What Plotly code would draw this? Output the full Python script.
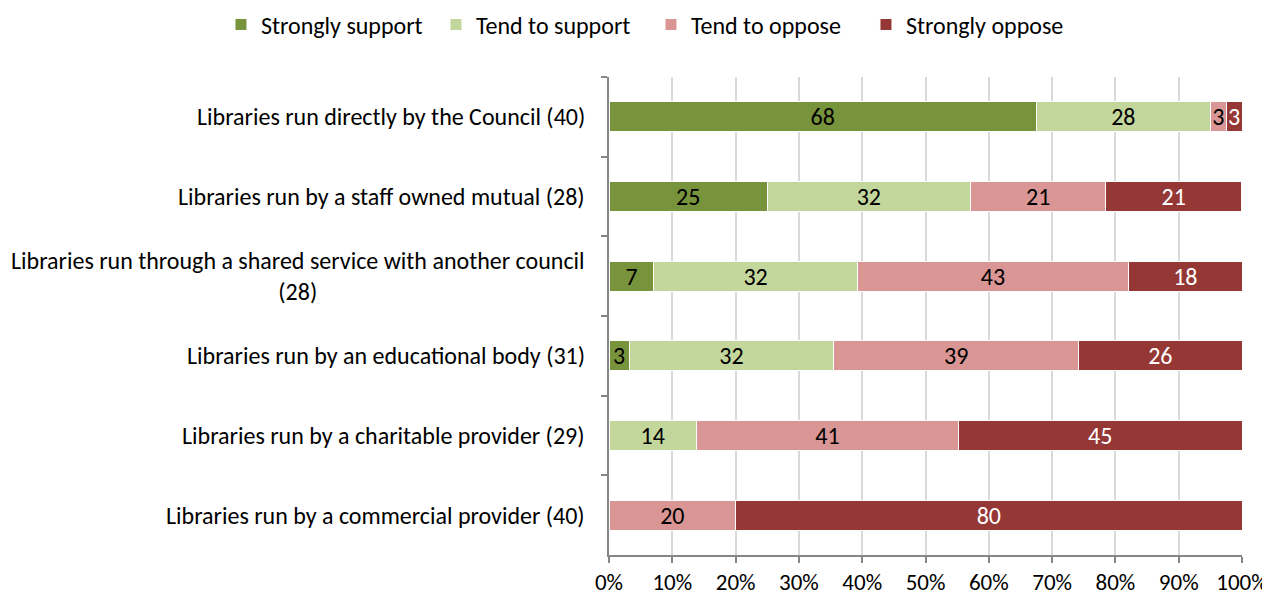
import plotly.graph_objects as go

categories = [
    "Libraries run directly by the Council (40)",
    "Libraries run by a staff owned mutual (28)",
    "Libraries run through a shared service with another council<br>(28)",
    "Libraries run by an educational body (31)",
    "Libraries run by a charitable provider (29)",
    "Libraries run by a commercial provider (40)",
]
series_names = ["Strongly support", "Tend to support", "Tend to oppose", "Strongly oppose"]
strongly_support = [67.5, 25.0, 7.1, 3.2, 0.0, 0.0]
tend_support = [27.5, 32.1, 32.1, 32.3, 13.8, 0.0]
tend_oppose = [2.5, 21.4, 42.9, 38.7, 41.4, 20.0]
strongly_oppose = [2.5, 21.4, 17.9, 25.8, 44.8, 80.0]
labels_ss = ["68", "25", "7", "3", "", ""]
labels_ts = ["28", "32", "32", "32", "14", ""]
labels_to = ["3", "21", "43", "39", "41", "20"]
labels_so = ["3", "21", "18", "26", "45", "80"]
x_ticks = [0, 10, 20, 30, 40, 50, 60, 70, 80, 90, 100]
x_tick_text = ["0%", "10%", "20%", "30%", "40%", "50%", "60%", "70%", "80%", "90%", "100%"]

colors = ["#77933C", "#C3D69B", "#D99694", "#953735"]
text_colors = ["#000000", "#000000", "#000000", "#FFFFFF"]
values = [strongly_support, tend_support, tend_oppose, strongly_oppose]
labels = [labels_ss, labels_ts, labels_to, labels_so]

FONT = "Carlito, Calibri, Lato, sans-serif"
FS = 24      # category / legend / bar label text
FT = 23      # x tick labels

fig = go.Figure()
for name, vals, lab, col, tcol in zip(series_names, values, labels, colors, text_colors):
    fig.add_trace(go.Bar(
        y=categories, x=vals, name=name, orientation="h",
        marker=dict(color=col, line=dict(color="#FFFFFF", width=1)),
        text=lab, textposition="inside", insidetextanchor="middle", textangle=0,
        textfont=dict(color=tcol, size=FS, family=FONT),
        hoverinfo="skip",
    ))

for c in categories:
    fig.add_annotation(
        x=0, xref="paper", y=c, yref="y", text=c, showarrow=False,
        xanchor="right", align="center", xshift=-22,
        font=dict(size=FS, family=FONT, color="#000000"),
    )

# the page body adds an 8px offset; margins compensate for it
fig.update_layout(
    barmode="stack",
    bargap=0.62,
    width=1270, height=594,
    margin=dict(l=601, r=36, t=69, b=47, autoexpand=False),
    paper_bgcolor="white", plot_bgcolor="white",
    font=dict(family=FONT, size=FS, color="#000000"),
    uniformtext=dict(minsize=FS, mode="show"),
    legend=dict(orientation="h", x=-0.613, xanchor="left", xref="paper",
                y=1.109, yref="paper", yanchor="middle",
                font=dict(size=FS, family=FONT), traceorder="normal",
                itemwidth=30, entrywidth=170, entrywidthmode="pixels"),
    showlegend=True,
)
fig.update_xaxes(
    range=[0, 100], tickvals=x_ticks, ticktext=x_tick_text,
    showgrid=True, gridcolor="#D9D9D9", gridwidth=1.5,
    showline=True, linecolor="#868686", linewidth=1.5,
    ticks="outside", ticklen=6, tickcolor="#868686", tickwidth=1.5,
    zeroline=False, tickfont=dict(size=FT, family=FONT),
)
fig.update_yaxes(
    categoryorder="array", categoryarray=categories, autorange="reversed",
    showticklabels=False, tickson="boundaries", ticks="outside", ticklen=6,
    tickcolor="#868686", tickwidth=1.5,
    showline=True, linecolor="#868686", linewidth=1.5, showgrid=False,
)

fig.write_html("out.html")
